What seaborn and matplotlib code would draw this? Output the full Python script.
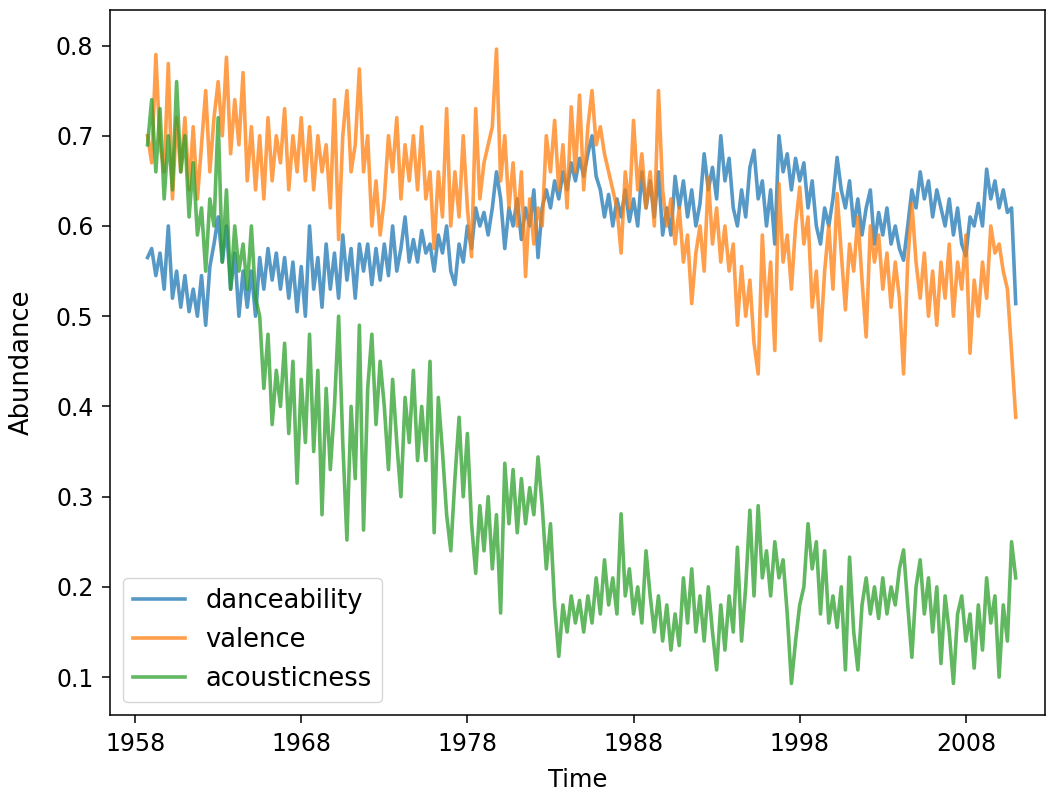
import numpy as np
import pandas as pd
import matplotlib
matplotlib.use("Agg")
import matplotlib.pyplot as plt
import seaborn as sns

# quarterly samples, 1958.75 .. 2011.00 (rows = one calendar year)
danceability = [
    .565,
    .575, .545, .57, .53,
    .60, .52, .55, .51,
    .545, .505, .53, .50,
    .545, .49, .555, .58,
    .61, .56, .60, .53,
    .57, .50, .55, .51,
    .55, .50, .565, .53,
    .575, .54, .57, .53,
    .565, .52, .56, .505,
    .555, .50, .60, .53,
    .565, .51, .58, .53,
    .57, .52, .59, .54,
    .575, .52, .58, .55,
    .58, .535, .575, .54,
    .58, .545, .60, .55,
    .575, .61, .56, .585,
    .56, .595, .57, .58,
    .55, .59, .57, .60,
    .55, .535, .58, .56,
    .60, .575, .62, .60,
    .615, .59, .62, .66,
    .63, .575, .62, .60,
    .63, .585, .62, .60,
    .64, .565, .62, .64,
    .62, .65, .63, .66,
    .64, .67, .65, .675,
    .655, .68, .70, .655,
    .64, .61, .635, .60,
    .63, .61, .64, .605,
    .63, .60, .66, .62,
    .65, .61, .66, .59,
    .62, .59, .655, .62,
    .65, .61, .64, .60,
    .625, .68, .64, .665,
    .63, .70, .65, .675,
    .62, .60, .64, .61,
    .665, .684, .63, .65,
    .60, .64, .58, .70,
    .66, .68, .64, .675,
    .65, .67, .62, .65,
    .60, .58, .62, .60,
    .63, .676, .64, .62,
    .65, .60, .63, .59,
    .62, .64, .58, .615,
    .59, .62, .58, .60,
    .575, .562, .60, .64,
    .62, .66, .63, .65,
    .61, .64, .62, .60,
    .63, .59, .62, .58,
    .567, .61, .60, .625,
    .60, .663, .63, .65,
    .62, .64, .615, .62,
    .514,
]

valence = [
    .70,
    .67, .79, .69, .66,
    .78, .63, .72, .66,
    .72, .64, .71, .63,
    .69, .75, .66, .72,
    .76, .70, .787, .68,
    .74, .69, .77, .65,
    .71, .64, .70, .63,
    .72, .65, .70, .67,
    .73, .64, .70, .66,
    .72, .65, .71, .64,
    .70, .66, .69, .62,
    .74, .585, .70, .75,
    .66, .69, .774, .66,
    .70, .60, .65, .59,
    .63, .70, .66, .72,
    .63, .69, .65, .70,
    .64, .71, .63, .66,
    .575, .66, .61, .73,
    .60, .66, .61, .70,
    .62, .566, .73, .63,
    .67, .69, .71, .796,
    .65, .70, .62, .67,
    .60, .66, .544, .63,
    .58, .62, .60, .70,
    .66, .717, .64, .69,
    .62, .732, .66, .745,
    .64, .71, .75, .69,
    .71, .68, .66, .64,
    .62, .57, .66, .62,
    .717, .64, .68, .62,
    .66, .60, .75, .64,
    .60, .63, .58, .62,
    .56, .59, .514, .57,
    .60, .55, .654, .58,
    .62, .56, .60, .55,
    .58, .49, .555, .50,
    .54, .47, .436, .59,
    .50, .56, .462, .647,
    .56, .59, .53, .60,
    .643, .58, .61, .51,
    .55, .473, .55, .60,
    .53, .636, .57, .507,
    .58, .55, .61, .54,
    .477, .60, .56, .59,
    .53, .57, .51, .56,
    .52, .436, .56, .625,
    .56, .52, .57, .50,
    .55, .49, .56, .52,
    .58, .50, .56, .53,
    .59, .459, .54, .50,
    .56, .52, .60, .57,
    .58, .55, .53, .46,
    .388,
]

acousticness = [
    .69,
    .74, .66, .73, .63,
    .70, .64, .76, .66,
    .70, .61, .67, .59,
    .62, .55, .63, .60,
    .72, .56, .64, .53,
    .60, .55, .58, .53,
    .60, .52, .50, .42,
    .48, .38, .44, .40,
    .47, .37, .45, .315,
    .43, .36, .48, .35,
    .44, .28, .42, .33,
    .40, .50, .36, .252,
    .40, .32, .49, .263,
    .42, .48, .38, .45,
    .40, .33, .43, .36,
    .30, .41, .36, .44,
    .34, .40, .34, .45,
    .26, .41, .35, .28,
    .24, .32, .388, .30,
    .37, .27, .215, .29,
    .24, .30, .22, .28,
    .171, .337, .27, .33,
    .26, .32, .27, .31,
    .28, .344, .29, .22,
    .27, .18, .123, .18,
    .15, .19, .16, .185,
    .15, .19, .16, .21,
    .17, .23, .18, .21,
    .17, .281, .19, .22,
    .17, .20, .16, .24,
    .19, .15, .19, .14,
    .18, .13, .17, .135,
    .21, .16, .22, .15,
    .19, .14, .20, .15,
    .108, .18, .13, .19,
    .15, .244, .14, .20,
    .285, .19, .29, .21,
    .24, .19, .25, .21,
    .23, .17, .093, .14,
    .18, .20, .27, .22,
    .25, .17, .24, .16,
    .19, .155, .20, .108,
    .233, .15, .108, .18,
    .21, .17, .20, .165,
    .21, .17, .20, .18,
    .22, .241, .18, .122,
    .20, .23, .17, .21,
    .15, .20, .115, .19,
    .15, .093, .17, .19,
    .14, .17, .11, .18,
    .13, .21, .16, .19,
    .10, .18, .14, .25,
    .21,
]

series_names = ["danceability", "valence", "acousticness"]
start_year = 1958.75
step = 0.25
xticks = [1958, 1968, 1978, 1988, 1998, 2008]
yticks = [0.1, 0.2, 0.3, 0.4, 0.5, 0.6, 0.7, 0.8]

n = len(danceability)
time = start_year + step * np.arange(n)
frames = []
for name, vals in zip(series_names, [danceability, valence, acousticness]):
    frames.append(pd.DataFrame({"Time": time[:len(vals)], "Abundance": vals, "feature": name}))
df = pd.concat(frames, ignore_index=True)

fig, ax = plt.subplots(figsize=(10.49, 7.95), dpi=100)
fig.subplots_adjust(left=0.105, right=0.996, top=0.987, bottom=0.1006)

sns.lineplot(data=df, x="Time", y="Abundance", hue="feature",
             palette=["#1f77b4", "#ff7f0e", "#2ca02c"], alpha=0.75,
             linewidth=2.6, estimator=None, ax=ax)

ax.set_xlim(1956.5, 2012.75)
ax.set_ylim(0.058, 0.839)
ax.set_xticks(xticks)
ax.set_xticklabels([str(t) for t in xticks])
ax.set_yticks(yticks)
ax.set_yticklabels([f"{t:.1f}" for t in yticks])
ax.tick_params(labelsize=17, length=6, width=1.1, pad=6)
ax.set_xlabel("Time", fontsize=17.5, labelpad=9)
ax.set_ylabel("Abundance", fontsize=18.5, labelpad=15)
for s in ax.spines.values():
    s.set_linewidth(1.1)

sns.move_legend(ax, "lower left", title=None, fontsize=18.5,
                borderaxespad=0.5, handlelength=2.0)
for line in ax.get_legend().get_lines():
    line.set_linewidth(2.6)

fig.savefig("out.png", dpi=100)
